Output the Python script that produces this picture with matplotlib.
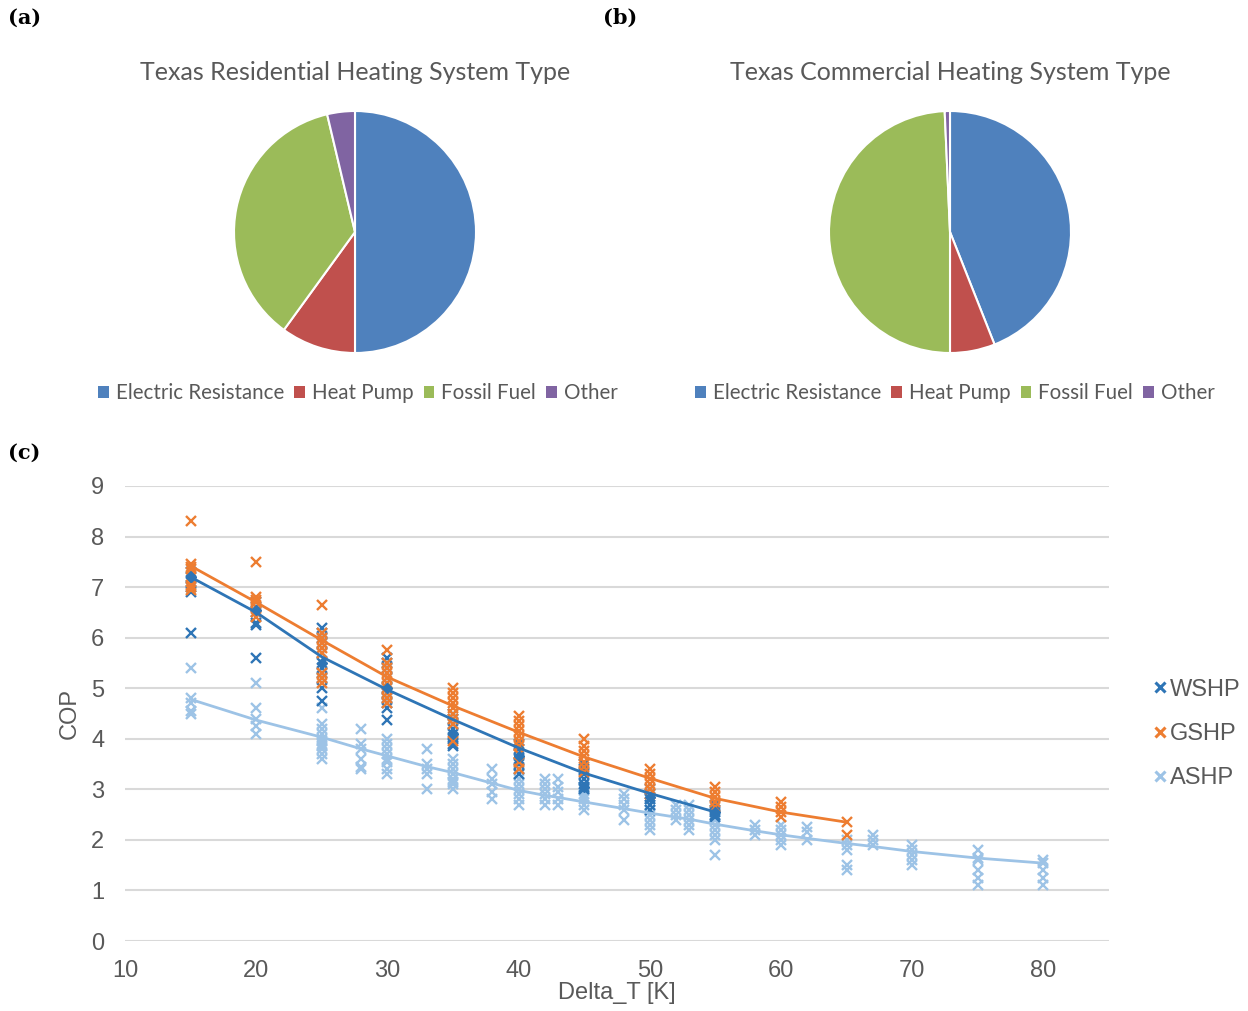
import numpy as np
import matplotlib
matplotlib.use("Agg")
from matplotlib import pyplot as plt
from matplotlib.patches import Patch
from matplotlib.lines import Line2D

# pie data (percent)
pie_labels = ["Electric Resistance", "Heat Pump", "Fossil Fuel", "Other"]
res_shares = [50.0, 10.0, 36.3, 3.7]
com_shares = [44.0, 6.0, 49.3, 0.7]
pie_colors = ["#4F81BD", "#C0504D", "#9BBB59", "#8064A2"]

# scatter data: delta T -> list of COP readings
wshp_pts = {
    15: [7.3, 7.2, 7.1, 7.0, 6.9, 6.1],
    20: [6.7, 6.6, 6.5, 6.3, 6.25, 5.6],
    25: [6.2, 6.1, 6.0, 5.9, 5.7, 5.5, 5.4, 5.3, 5.2, 5.0, 4.75],
    30: [5.6, 5.5, 5.4, 5.2, 5.0, 4.9, 4.8, 4.7, 4.6, 4.37],
    35: [4.5, 4.4, 4.3, 4.2, 4.1, 4.0, 3.9, 3.85],
    40: [3.9, 3.8, 3.7, 3.6, 3.5, 3.4, 3.3],
    45: [3.5, 3.4, 3.3, 3.2, 3.1, 3.05, 3.0],
    50: [3.0, 2.9, 2.8, 2.7, 2.6],
    55: [2.7, 2.6, 2.55, 2.5, 2.45],
}
gshp_pts = {
    15: [8.3, 7.45, 7.4, 7.35, 7.05, 7.0, 6.95],
    20: [7.5, 6.8, 6.75, 6.7, 6.6, 6.5, 6.4],
    25: [6.65, 6.1, 6.0, 5.9, 5.8, 5.7, 5.3, 5.2, 5.1],
    30: [5.75, 5.5, 5.4, 5.3, 5.2, 5.1, 5.0, 4.9, 4.8, 4.7],
    35: [5.0, 4.9, 4.8, 4.7, 4.6, 4.5, 4.4, 4.3, 3.95],
    40: [4.45, 4.35, 4.25, 4.15, 4.05, 3.95, 3.85, 3.7, 3.55, 3.4],
    45: [4.0, 3.85, 3.75, 3.65, 3.55, 3.45, 3.35],
    50: [3.4, 3.3, 3.2, 3.1, 3.0, 2.9],
    55: [3.05, 2.95, 2.85, 2.75, 2.65],
    60: [2.75, 2.65, 2.55, 2.45],
    65: [2.35, 2.1],
}
ashp_pts = {
    15: [5.4, 4.8, 4.7, 4.55, 4.5],
    20: [5.1, 4.6, 4.4, 4.25, 4.1],
    25: [4.6, 4.3, 4.2, 4.1, 4.0, 3.95, 3.9, 3.85, 3.8, 3.7, 3.6],
    28: [4.2, 3.9, 3.8, 3.6, 3.45, 3.4],
    30: [4.0, 3.9, 3.8, 3.7, 3.6, 3.55, 3.4, 3.3],
    33: [3.8, 3.5, 3.4, 3.3, 3.0],
    35: [3.6, 3.5, 3.4, 3.3, 3.2, 3.15, 3.1, 3.0],
    38: [3.4, 3.2, 3.1, 2.95, 2.8],
    40: [3.3, 3.2, 3.1, 3.0, 2.9, 2.8, 2.7],
    42: [3.2, 3.1, 3.0, 2.9, 2.8, 2.7],
    43: [3.2, 3.05, 2.95, 2.8, 2.7],
    45: [3.0, 2.9, 2.85, 2.8, 2.7, 2.6],
    48: [2.9, 2.8, 2.7, 2.6, 2.4],
    50: [2.8, 2.7, 2.6, 2.5, 2.4, 2.3, 2.2],
    52: [2.7, 2.6, 2.5, 2.4],
    53: [2.7, 2.6, 2.5, 2.4, 2.3, 2.2],
    55: [2.5, 2.4, 2.3, 2.2, 2.1, 2.0, 1.7],
    58: [2.3, 2.2, 2.1],
    60: [2.3, 2.2, 2.1, 2.0, 1.9],
    62: [2.25, 2.15, 2.0],
    65: [2.0, 1.9, 1.8, 1.5, 1.4],
    67: [2.1, 2.0, 1.9],
    70: [1.9, 1.8, 1.7, 1.6, 1.5],
    75: [1.8, 1.65, 1.6, 1.4, 1.25, 1.1],
    80: [1.6, 1.55, 1.4, 1.25, 1.1],
}

# trend lines
wshp_tx = [15, 20, 25, 30, 35, 40, 45, 50, 55]
wshp_ty = [7.2, 6.5, 5.62, 4.97, 4.38, 3.82, 3.32, 2.92, 2.55]
gshp_tx = [15, 20, 25, 30, 35, 40, 45, 50, 55, 60, 65]
gshp_ty = [7.42, 6.7, 5.95, 5.22, 4.65, 4.13, 3.64, 3.22, 2.82, 2.55, 2.35]
ashp_tx = [15, 20, 25, 28, 30, 33, 35, 38, 40, 42, 43, 45, 48, 50, 52, 53,
           55, 58, 60, 62, 65, 67, 70, 75, 80]
ashp_ty = [4.78, 4.37, 4.03, 3.8, 3.66, 3.45, 3.33, 3.12, 2.98, 2.88, 2.84,
           2.75, 2.62, 2.53, 2.45, 2.41, 2.31, 2.18, 2.1, 2.03, 1.93, 1.87,
           1.77, 1.64, 1.54]

# diamond markers on the WSHP series
wshp_dx = [15, 20, 25, 30, 35, 40, 45, 50, 55]
wshp_dy = [7.2, 6.55, 5.5, 5.0, 4.1, 3.65, 3.05, 2.85, 2.55]

c_wshp = "#2E75B6"
c_gshp = "#ED7D31"
c_ashp = "#9DC3E6"
grey = "#595959"

W, H = 1248, 1011
fig = plt.figure(figsize=(W / 100, H / 100), dpi=100)

def px_axes(cx, cy, r):
    return [(cx - r) / W, 1 - (cy + r) / H, 2 * r / W, 2 * r / H]

pie_font = "Lato"

for cx, lx, shares, title in [(355, 358, res_shares, "Texas Residential Heating System Type"),
                              (950, 955, com_shares, "Texas Commercial Heating System Type")]:
    ax = fig.add_axes(px_axes(cx, 232, 121))
    ax.pie(shares, colors=pie_colors, startangle=90, counterclock=False,
           wedgeprops=dict(edgecolor="white", linewidth=1.5))
    ax.set_xlim(-1, 1)
    ax.set_ylim(-1, 1)
    ax.set_aspect("equal")
    fig.text(cx / W, 1 - 73 / H, title, ha="center", va="center",
             fontsize=18, color=grey, family=pie_font)
    handles = [Patch(facecolor=c, edgecolor="none") for c in pie_colors]
    fig.legend(handles, pie_labels, loc="center", bbox_to_anchor=(lx / W, 1 - 393 / H),
               ncol=4, frameon=False, handlelength=0.5, handleheight=0.5,
               handletextpad=0.35, columnspacing=0.5, prop=dict(family=pie_font, size=14.8),
               labelcolor=grey)

for lab, x, y in [("(a)", 8, 18), ("(b)", 603, 18), ("(c)", 8, 453)]:
    fig.text(x / W, 1 - y / H, lab, ha="left", va="center", fontsize=15,
             fontweight="bold", family="DejaVu Serif")

# scatter panel
ax = fig.add_axes([125 / W, 1 - 941 / H, (1109 - 125) / W, (941 - 486) / H])
ms = 7.5
mew = 1.7
for pts, col in [(ashp_pts, c_ashp), (wshp_pts, c_wshp), (gshp_pts, c_gshp)]:
    xs = [k for k, v in pts.items() for _ in v]
    ys = [y for v in pts.values() for y in v]
    ax.plot(xs, ys, linestyle="none", marker="x", ms=ms, mew=mew, color=col, zorder=3)
ax.plot(wshp_dx, wshp_dy, linestyle="none", marker="D", ms=5, color=c_wshp, zorder=4)
ax.plot(ashp_tx, ashp_ty, color=c_ashp, lw=2, zorder=5)
ax.plot(wshp_tx, wshp_ty, color=c_wshp, lw=2, zorder=5)
ax.plot(gshp_tx, gshp_ty, color=c_gshp, lw=2, zorder=5)

ax.set_xlim(10, 85)
ax.set_ylim(0, 9)
ax.set_xticks(range(10, 81, 10))
ax.set_yticks(range(0, 10))
ax.yaxis.grid(True, color="#D9D9D9", lw=1.5)
ax.set_axisbelow(True)
for s in ax.spines.values():
    s.set_visible(False)
ax.tick_params(axis="x", length=0, labelsize=17, labelcolor=grey, pad=14)
ax.tick_params(axis="y", length=0, labelsize=17, labelcolor=grey, pad=15)
for t in ax.get_xticklabels() + ax.get_yticklabels():
    t.set_family("Liberation Sans")
ax.set_xlabel("Delta_T [K]", fontsize=17, color=grey, family="Liberation Sans", labelpad=0)
ax.set_ylabel("COP", fontsize=17, color=grey, family="Liberation Sans", labelpad=7)

leg_handles = [Line2D([], [], linestyle="none", marker="x", ms=7, mew=2.2, color=c)
               for c in [c_wshp, c_gshp, c_ashp]]
fig.legend(leg_handles, ["WSHP", "GSHP", "ASHP"], loc="center left",
           bbox_to_anchor=(1133 / W, 1 - 734 / H), frameon=False,
           prop=dict(family="Liberation Sans", size=17), labelcolor=grey,
           handlelength=0.5, handletextpad=0.15, labelspacing=0.95)

fig.savefig("out.png", dpi=100)
